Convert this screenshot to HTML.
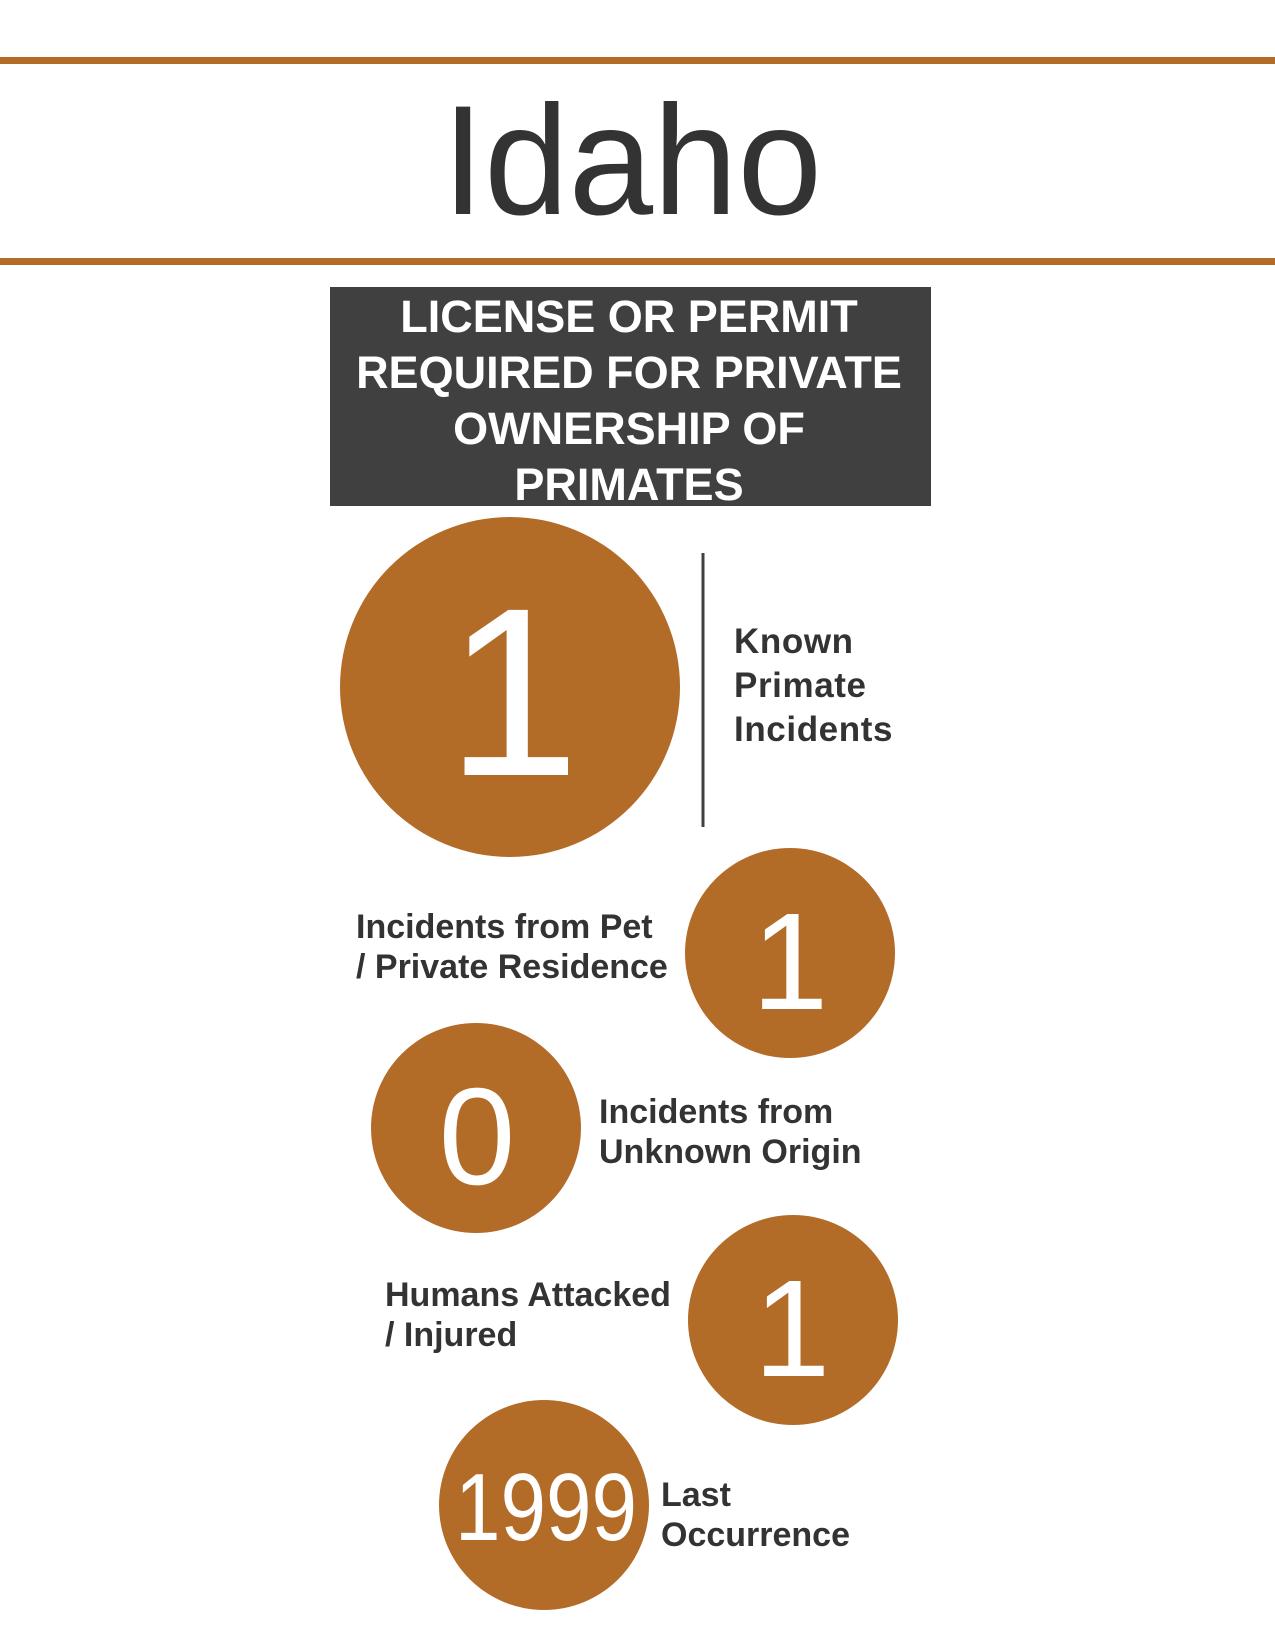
<!DOCTYPE html>
<html><head><meta charset="utf-8"><style>
html,body{margin:0;padding:0;background:#fff}
body{width:1275px;height:1650px;position:relative;overflow:hidden;font-family:"Liberation Sans",sans-serif}
.lbl{position:absolute;color:#333;font-weight:bold;font-size:34px;line-height:40px;white-space:nowrap}
</style></head><body>
<svg width="1275" height="1650" style="position:absolute;left:0;top:0">
<rect x="0" y="57" width="1275" height="7" fill="#b36b28"/>
<rect x="0" y="258" width="1275" height="7" fill="#b36b28"/>
<text x="632" y="214" text-anchor="middle" font-family="Liberation Sans" font-size="156" fill="#333" textLength="380" lengthAdjust="spacingAndGlyphs">Idaho</text>
<rect x="330" y="287" width="601" height="219" fill="#404040"/>
<g font-family="Liberation Sans" font-weight="bold" font-size="45" fill="#fff" text-anchor="middle">
<text x="629" y="332">LICENSE OR PERMIT</text>
<text x="629" y="388">REQUIRED FOR PRIVATE</text>
<text x="629" y="444">OWNERSHIP OF</text>
<text x="629" y="500">PRIMATES</text>
</g>
<line x1="703" y1="553" x2="703" y2="827" stroke="#404040" stroke-width="3"/>
<g fill="#b36b28">
<circle cx="510" cy="687" r="170"/>
<circle cx="790" cy="953" r="105"/>
<circle cx="476" cy="1128" r="105"/>
<circle cx="793" cy="1320" r="105"/>
<circle cx="544" cy="1505" r="105"/>
</g>
<g font-family="Liberation Sans" fill="#fff" text-anchor="middle">
<text x="513" y="775" font-size="240">1</text>
<text x="790" y="1009" font-size="138">1</text>
<text x="477" y="1184" font-size="138">0</text>
<text x="792" y="1376" font-size="138">1</text>
<text x="546" y="1540" font-size="96" textLength="182" lengthAdjust="spacingAndGlyphs">1999</text>
</g>
</svg>
<div class="lbl" style="left:734px;top:620px;line-height:44px;font-size:35px;letter-spacing:0.6px">Known<br>Primate<br>Incidents</div>
<div class="lbl" style="left:356px;top:907px">Incidents from Pet<br>/ Private Residence</div>
<div class="lbl" style="left:599px;top:1092px">Incidents from<br>Unknown Origin</div>
<div class="lbl" style="left:385px;top:1275px">Humans Attacked<br>/ Injured</div>
<div class="lbl" style="left:661px;top:1475px">Last<br>Occurrence</div>
</body></html>
